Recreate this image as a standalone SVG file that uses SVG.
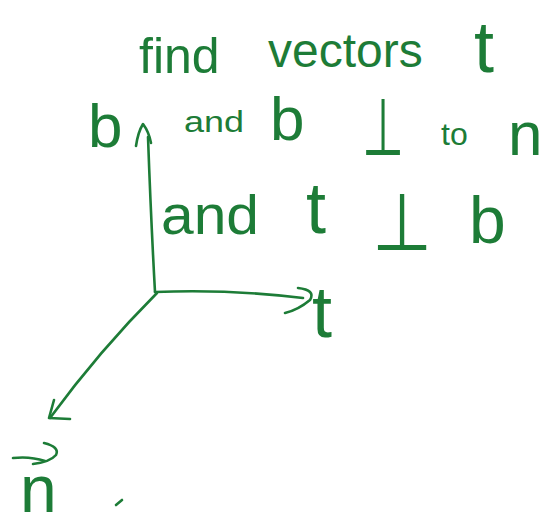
<svg xmlns="http://www.w3.org/2000/svg" width="558" height="528" viewBox="0 0 558 528">
<style>
.t{font-family:"Liberation Sans","DejaVu Sans",sans-serif;fill:#1d7c37}
.s{font-family:"DejaVu Sans","Liberation Sans",sans-serif;fill:#1d7c37}
.ln{fill:none;stroke:#1d7c37;stroke-width:2.6;stroke-linecap:round;stroke-linejoin:round}
</style>
<rect width="558" height="528" fill="#fff"/>
<g id="title">
<text class="t" x="139" y="73" font-size="50">find</text>
<text class="t" x="268" y="67" font-size="48">vectors</text>
<text class="t" x="474" y="72" font-size="72">t</text>
</g>
<g id="line2">
<text class="t" x="88" y="147" font-size="62">b</text>
<text class="t" x="184" y="132" font-size="30" textLength="60" lengthAdjust="spacingAndGlyphs">and</text>
<text class="t" x="270" y="140" font-size="62">b</text>
<text class="s" x="362" y="155" font-size="80" textLength="42" lengthAdjust="spacingAndGlyphs">⊥</text>
<text class="t" x="441" y="145" font-size="32">to</text>
<text class="t" x="508" y="155" font-size="62">n</text>
</g>
<g id="line3">
<text class="t" x="161" y="234" font-size="56" textLength="98" lengthAdjust="spacingAndGlyphs">and</text>
<text class="t" x="306" y="233" font-size="72">t</text>
<text class="s" x="372" y="250" font-size="80" textLength="60" lengthAdjust="spacingAndGlyphs">⊥</text>
<text class="t" x="469" y="243" font-size="66">b</text>
</g>
<g id="label-t">
<text class="t" x="312" y="337" font-size="72">t</text>
</g>
<g id="label-n">
<path class="ln" d="M13,458 Q30,456 45,461 M44,443 Q60,447 56,455 Q50,462 33,464"/>
<text class="t" x="20" y="512" font-size="66">n</text>
</g>
<g id="dot">
<path class="ln" d="M116,505 L122,500"/>
</g>
<g id="connectors">
<path class="ln" d="M155,292 Q151,220 148,137"/>
<path class="ln" d="M136,146 Q138,132 143,124 Q149,132 151,143"/>
<path class="ln" d="M155,292 Q230,289 303,298"/>
<path class="ln" d="M298,288 Q316,290 310,300 Q298,310 285,313"/>
<path class="ln" d="M157,293 Q100,350 50,418"/>
<path class="ln" d="M54,400 L49,418 L70,419"/>
</g>
</svg>
